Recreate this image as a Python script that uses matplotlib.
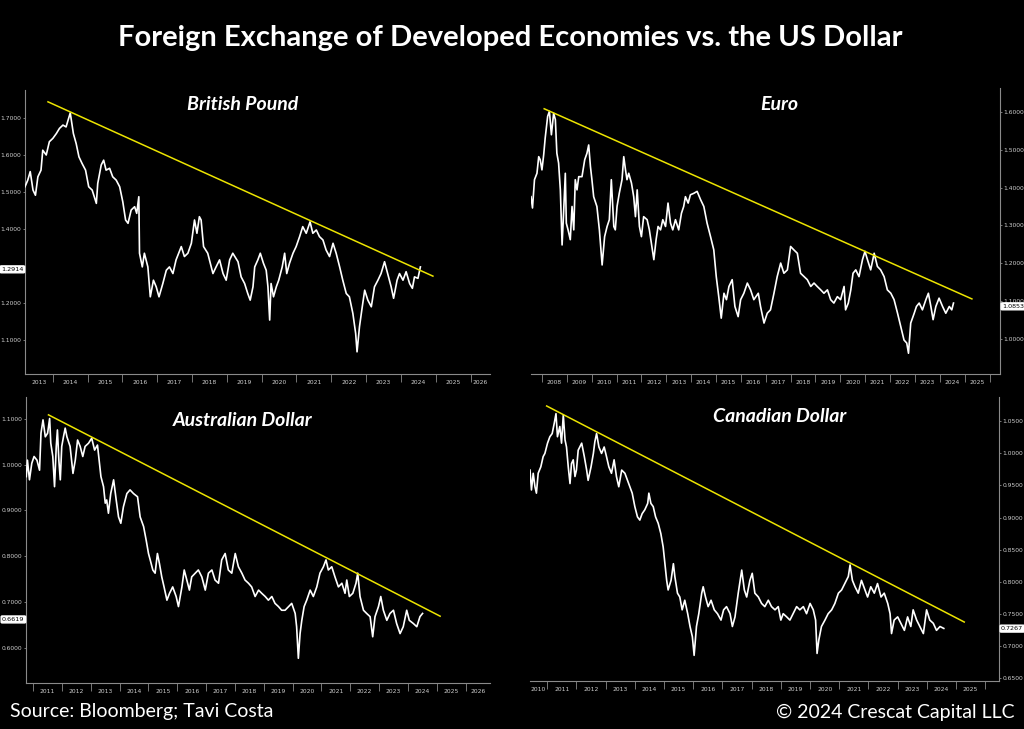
import matplotlib
matplotlib.use("Agg")
import matplotlib.pyplot as plt

# ---- data (decimal years, FX rate vs USD) ----
gbp_t = [2013.20, 2013.28, 2013.35, 2013.43, 2013.50, 2013.57, 2013.66, 2013.71, 2013.81, 2013.90,
         2014.00, 2014.10, 2014.19, 2014.29, 2014.38, 2014.50, 2014.59, 2014.67, 2014.75, 2014.84,
         2014.94, 2015.03, 2015.13, 2015.25, 2015.29, 2015.39, 2015.46, 2015.53, 2015.63, 2015.72,
         2015.82, 2015.92, 2016.01, 2016.09, 2016.16, 2016.25, 2016.35, 2016.41, 2016.47, 2016.49,
         2016.57, 2016.63, 2016.73, 2016.80, 2016.89, 2016.97, 2017.05, 2017.16, 2017.26, 2017.35,
         2017.45, 2017.54, 2017.69, 2017.78, 2017.88, 2017.98, 2018.07, 2018.14, 2018.21, 2018.26,
         2018.33, 2018.45, 2018.60, 2018.69, 2018.79, 2018.89, 2018.98, 2019.08, 2019.17, 2019.32,
         2019.41, 2019.51, 2019.60, 2019.67, 2019.75, 2019.80, 2019.89, 2019.96, 2020.05, 2020.13,
         2020.18, 2020.23, 2020.27, 2020.34, 2020.42, 2020.49, 2020.59, 2020.66, 2020.72, 2020.80,
         2020.90, 2020.99, 2021.09, 2021.18, 2021.28, 2021.39, 2021.47, 2021.57, 2021.66, 2021.76,
         2021.85, 2021.95, 2022.05, 2022.14, 2022.24, 2022.33, 2022.43, 2022.52, 2022.62, 2022.70,
         2022.74, 2022.81, 2022.89, 2022.96, 2023.05, 2023.15, 2023.24, 2023.34, 2023.43, 2023.53,
         2023.62, 2023.72, 2023.79, 2023.89, 2023.96, 2024.06, 2024.15, 2024.25, 2024.33, 2024.39,
         2024.49, 2024.56]
gbp_v = [1.515, 1.533, 1.556, 1.506, 1.492, 1.542, 1.560, 1.614, 1.601, 1.637,
         1.646, 1.659, 1.673, 1.682, 1.677, 1.715, 1.659, 1.632, 1.596, 1.578,
         1.560, 1.515, 1.506, 1.470, 1.524, 1.574, 1.587, 1.560, 1.565, 1.542,
         1.533, 1.515, 1.474, 1.425, 1.416, 1.452, 1.461, 1.443, 1.488, 1.335,
         1.298, 1.335, 1.298, 1.217, 1.262, 1.244, 1.217, 1.253, 1.289, 1.298,
         1.280, 1.317, 1.353, 1.326, 1.335, 1.362, 1.425, 1.389, 1.434, 1.425,
         1.353, 1.335, 1.280, 1.298, 1.317, 1.280, 1.262, 1.317, 1.335, 1.312,
         1.271, 1.253, 1.226, 1.208, 1.244, 1.298, 1.317, 1.335, 1.308, 1.289,
         1.244, 1.154, 1.253, 1.217, 1.244, 1.262, 1.298, 1.335, 1.280, 1.308,
         1.335, 1.353, 1.380, 1.407, 1.389, 1.420, 1.389, 1.398, 1.380, 1.371,
         1.344, 1.326, 1.362, 1.335, 1.298, 1.262, 1.226, 1.217, 1.172, 1.118,
         1.068, 1.136, 1.190, 1.235, 1.208, 1.190, 1.244, 1.262, 1.280, 1.312,
         1.280, 1.244, 1.213, 1.262, 1.280, 1.262, 1.285, 1.253, 1.240, 1.271,
         1.267, 1.298]

eur_t = [2007.56, 2007.62, 2007.70, 2007.80, 2007.87, 2007.93, 2008.00, 2008.07, 2008.13, 2008.23,
         2008.30, 2008.38, 2008.47, 2008.54, 2008.60, 2008.67, 2008.74, 2008.81, 2008.87, 2008.94,
         2008.98, 2009.05, 2009.14, 2009.21, 2009.28, 2009.34, 2009.41, 2009.48, 2009.61, 2009.72,
         2009.81, 2009.88, 2009.95, 2010.01, 2010.08, 2010.21, 2010.31, 2010.42, 2010.52, 2010.62,
         2010.71, 2010.79, 2010.89, 2010.95, 2011.02, 2011.11, 2011.22, 2011.29, 2011.36, 2011.42,
         2011.49, 2011.60, 2011.69, 2011.76, 2011.83, 2011.92, 2012.00, 2012.09, 2012.23, 2012.32,
         2012.40, 2012.50, 2012.59, 2012.67, 2012.77, 2012.86, 2012.97, 2013.07, 2013.17, 2013.26,
         2013.37, 2013.50, 2013.61, 2013.70, 2013.77, 2013.88, 2013.97, 2014.11, 2014.24, 2014.38,
         2014.51, 2014.64, 2014.78, 2014.91, 2015.01, 2015.11, 2015.21, 2015.32, 2015.42, 2015.52,
         2015.65, 2015.76, 2015.89, 2015.99, 2016.12, 2016.26, 2016.39, 2016.52, 2016.70, 2016.79,
         2016.93, 2017.06, 2017.19, 2017.33, 2017.46, 2017.60, 2017.73, 2017.87, 2018.00, 2018.13,
         2018.27, 2018.40, 2018.54, 2018.67, 2018.81, 2018.94, 2019.07, 2019.21, 2019.34, 2019.48,
         2019.61, 2019.74, 2019.88, 2020.01, 2020.15, 2020.21, 2020.32, 2020.42, 2020.51, 2020.62,
         2020.75, 2020.89, 2020.99, 2021.09, 2021.22, 2021.36, 2021.49, 2021.62, 2021.76, 2021.89,
         2022.03, 2022.16, 2022.30, 2022.43, 2022.56, 2022.67, 2022.74, 2022.83, 2022.97, 2023.06,
         2023.17, 2023.30, 2023.44, 2023.54, 2023.64, 2023.73, 2023.84, 2023.97, 2024.11, 2024.24,
         2024.38, 2024.48, 2024.55]
eur_v = [1.376, 1.346, 1.421, 1.438, 1.482, 1.474, 1.447, 1.487, 1.531, 1.589,
         1.602, 1.540, 1.597, 1.580, 1.491, 1.465, 1.394, 1.248, 1.332, 1.438,
         1.306, 1.288, 1.262, 1.350, 1.288, 1.421, 1.394, 1.429, 1.429, 1.474,
         1.491, 1.513, 1.456, 1.421, 1.376, 1.350, 1.288, 1.195, 1.270, 1.297,
         1.315, 1.421, 1.297, 1.288, 1.350, 1.385, 1.421, 1.482, 1.447, 1.421,
         1.438, 1.412, 1.376, 1.323, 1.394, 1.297, 1.270, 1.323, 1.315, 1.288,
         1.253, 1.209, 1.262, 1.297, 1.288, 1.315, 1.297, 1.359, 1.306, 1.288,
         1.315, 1.288, 1.332, 1.350, 1.376, 1.359, 1.381, 1.385, 1.390, 1.368,
         1.350, 1.306, 1.270, 1.235, 1.164, 1.111, 1.054, 1.120, 1.103, 1.138,
         1.156, 1.085, 1.058, 1.103, 1.120, 1.147, 1.129, 1.103, 1.120, 1.085,
         1.041, 1.067, 1.076, 1.120, 1.164, 1.200, 1.173, 1.182, 1.244, 1.235,
         1.226, 1.173, 1.164, 1.156, 1.138, 1.147, 1.138, 1.129, 1.120, 1.129,
         1.103, 1.094, 1.111, 1.103, 1.138, 1.076, 1.094, 1.129, 1.173, 1.182,
         1.164, 1.209, 1.231, 1.209, 1.182, 1.226, 1.191, 1.182, 1.164, 1.129,
         1.120, 1.103, 1.067, 1.032, 0.996, 0.988, 0.961, 1.041, 1.067, 1.085,
         1.094, 1.076, 1.103, 1.120, 1.085, 1.050, 1.085, 1.107, 1.085, 1.067,
         1.085, 1.076, 1.094]

aud_t = [2010.76, 2010.80, 2010.87, 2010.95, 2011.03, 2011.13, 2011.22, 2011.27, 2011.34, 2011.42,
         2011.50, 2011.57, 2011.61, 2011.68, 2011.74, 2011.80, 2011.84, 2011.89, 2011.94, 2011.99,
         2012.05, 2012.11, 2012.17, 2012.28, 2012.38, 2012.46, 2012.54, 2012.63, 2012.72, 2012.80,
         2012.92, 2013.03, 2013.13, 2013.23, 2013.30, 2013.35, 2013.44, 2013.50, 2013.55, 2013.61,
         2013.69, 2013.79, 2013.88, 2013.96, 2014.04, 2014.13, 2014.25, 2014.36, 2014.48, 2014.62,
         2014.71, 2014.83, 2014.92, 2015.00, 2015.06, 2015.15, 2015.23, 2015.31, 2015.38, 2015.46,
         2015.54, 2015.64, 2015.73, 2015.84, 2015.96, 2016.04, 2016.16, 2016.24, 2016.33, 2016.42,
         2016.50, 2016.62, 2016.73, 2016.85, 2016.97, 2017.08, 2017.20, 2017.31, 2017.43, 2017.54,
         2017.66, 2017.77, 2017.89, 2018.01, 2018.12, 2018.24, 2018.35, 2018.47, 2018.58, 2018.70,
         2018.82, 2018.93, 2019.05, 2019.16, 2019.28, 2019.39, 2019.51, 2019.62, 2019.74, 2019.86,
         2019.97, 2020.09, 2020.14, 2020.20, 2020.26, 2020.32, 2020.40, 2020.49, 2020.61, 2020.72,
         2020.84, 2020.95, 2021.07, 2021.16, 2021.24, 2021.36, 2021.47, 2021.59, 2021.71, 2021.82,
         2021.88, 2021.97, 2022.09, 2022.20, 2022.26, 2022.34, 2022.46, 2022.57, 2022.69, 2022.78,
         2022.86, 2022.98, 2023.06, 2023.15, 2023.27, 2023.38, 2023.50, 2023.61, 2023.73, 2023.84,
         2023.96, 2024.05, 2024.19, 2024.31, 2024.42, 2024.51]
aud_v = [0.974, 1.010, 0.967, 1.003, 1.018, 1.010, 0.988, 1.069, 1.098, 1.061,
         1.069, 1.101, 1.047, 1.018, 0.952, 1.040, 1.076, 1.010, 0.967, 1.040,
         1.061, 1.080, 1.061, 1.040, 0.981, 1.010, 1.054, 1.040, 1.018, 1.040,
         1.047, 1.058, 1.032, 1.043, 1.003, 0.974, 0.952, 0.916, 0.923, 0.894,
         0.937, 0.967, 0.923, 0.886, 0.872, 0.908, 0.937, 0.945, 0.937, 0.930,
         0.886, 0.865, 0.835, 0.806, 0.792, 0.770, 0.763, 0.806, 0.784, 0.755,
         0.733, 0.704, 0.719, 0.733, 0.712, 0.690, 0.733, 0.770, 0.748, 0.726,
         0.755, 0.763, 0.770, 0.755, 0.726, 0.763, 0.770, 0.748, 0.741, 0.792,
         0.806, 0.770, 0.763, 0.806, 0.777, 0.763, 0.748, 0.741, 0.733, 0.712,
         0.726, 0.719, 0.712, 0.704, 0.712, 0.697, 0.690, 0.682, 0.682, 0.690,
         0.697, 0.675, 0.646, 0.577, 0.631, 0.660, 0.690, 0.704, 0.726, 0.712,
         0.733, 0.763, 0.777, 0.792, 0.770, 0.777, 0.755, 0.733, 0.741, 0.719,
         0.748, 0.712, 0.719, 0.741, 0.763, 0.712, 0.682, 0.675, 0.668, 0.624,
         0.668, 0.690, 0.712, 0.682, 0.660, 0.675, 0.682, 0.653, 0.631, 0.646,
         0.682, 0.660, 0.653, 0.646, 0.668, 0.675]

cad_t = [2010.41, 2010.46, 2010.52, 2010.58, 2010.63, 2010.69, 2010.78, 2010.86, 2010.92, 2011.01,
         2011.09, 2011.17, 2011.24, 2011.30, 2011.35, 2011.43, 2011.49, 2011.55, 2011.61, 2011.66,
         2011.72, 2011.78, 2011.83, 2011.89, 2011.95, 2012.00, 2012.06, 2012.18, 2012.27, 2012.35,
         2012.40, 2012.50, 2012.58, 2012.63, 2012.69, 2012.77, 2012.86, 2012.95, 2013.03, 2013.11,
         2013.20, 2013.29, 2013.37, 2013.45, 2013.55, 2013.66, 2013.75, 2013.83, 2013.91, 2014.00,
         2014.09, 2014.17, 2014.25, 2014.34, 2014.44, 2014.48, 2014.55, 2014.63, 2014.71, 2014.80,
         2014.89, 2014.97, 2015.03, 2015.09, 2015.14, 2015.24, 2015.32, 2015.37, 2015.46, 2015.54,
         2015.62, 2015.71, 2015.81, 2015.89, 2015.97, 2016.03, 2016.11, 2016.19, 2016.29, 2016.34,
         2016.42, 2016.51, 2016.61, 2016.72, 2016.83, 2016.95, 2017.04, 2017.14, 2017.26, 2017.34,
         2017.43, 2017.54, 2017.66, 2017.75, 2017.83, 2017.94, 2018.02, 2018.11, 2018.23, 2018.34,
         2018.45, 2018.57, 2018.68, 2018.80, 2018.91, 2019.00, 2019.08, 2019.20, 2019.31, 2019.42,
         2019.54, 2019.65, 2019.77, 2019.88, 2020.00, 2020.11, 2020.19, 2020.24, 2020.30, 2020.39,
         2020.51, 2020.62, 2020.74, 2020.85, 2020.97, 2021.08, 2021.19, 2021.31, 2021.37, 2021.45,
         2021.54, 2021.65, 2021.76, 2021.88, 2021.97, 2022.08, 2022.20, 2022.31, 2022.43, 2022.54,
         2022.66, 2022.74, 2022.79, 2022.88, 2023.00, 2023.11, 2023.23, 2023.34, 2023.45, 2023.53,
         2023.65, 2023.76, 2023.88, 2023.99, 2024.10, 2024.22, 2024.33, 2024.45, 2024.58]
cad_v = [0.974, 0.943, 0.969, 0.948, 0.938, 0.969, 0.979, 0.995, 1.000, 1.016,
         1.026, 1.031, 1.047, 1.062, 1.026, 1.042, 1.016, 1.060, 1.021, 1.010,
         0.979, 0.953, 0.984, 0.990, 0.964, 0.974, 1.005, 1.016, 0.995, 0.974,
         0.958, 0.979, 1.000, 1.018, 1.031, 1.010, 1.000, 1.010, 0.995, 0.979,
         0.969, 0.990, 0.964, 0.948, 0.974, 0.969, 0.958, 0.948, 0.938, 0.917,
         0.901, 0.896, 0.906, 0.912, 0.922, 0.938, 0.922, 0.917, 0.901, 0.891,
         0.875, 0.854, 0.828, 0.802, 0.787, 0.802, 0.828, 0.808, 0.782, 0.776,
         0.756, 0.771, 0.750, 0.730, 0.714, 0.685, 0.730, 0.750, 0.782, 0.792,
         0.776, 0.761, 0.771, 0.756, 0.750, 0.740, 0.756, 0.761, 0.750, 0.730,
         0.745, 0.782, 0.818, 0.787, 0.776, 0.802, 0.813, 0.782, 0.776, 0.766,
         0.761, 0.771, 0.761, 0.756, 0.761, 0.740, 0.750, 0.745, 0.740, 0.750,
         0.761, 0.756, 0.761, 0.750, 0.766, 0.756, 0.740, 0.688, 0.709, 0.730,
         0.740, 0.750, 0.756, 0.766, 0.782, 0.787, 0.797, 0.808, 0.826, 0.802,
         0.792, 0.782, 0.802, 0.787, 0.776, 0.792, 0.782, 0.797, 0.776, 0.782,
         0.766, 0.750, 0.719, 0.740, 0.745, 0.735, 0.724, 0.745, 0.730, 0.756,
         0.740, 0.730, 0.719, 0.756, 0.740, 0.735, 0.724, 0.730, 0.727]

# trend lines (start, end)
gbp_trend_t = [2013.86, 2024.92]
gbp_trend_v = [1.745, 1.273]
eur_trend_t = [2008.09, 2025.29]
eur_trend_v = [1.609, 1.105]
aud_trend_t = [2011.53, 2025.12]
aud_trend_v = [1.109, 0.669]
cad_trend_t = [2010.98, 2025.28]
cad_trend_v = [1.074, 0.737]

# last price tags
gbp_last = 1.2914
eur_last = 1.0853
aud_last = 0.6619
cad_last = 0.7267

# axis labels
gbp_years = list(range(2013, 2027))
eur_years = list(range(2008, 2026))
aud_years = list(range(2011, 2027))
cad_years = list(range(2010, 2026))
gbp_yticks = [1.1, 1.2, 1.3, 1.4, 1.5, 1.6, 1.7]
eur_yticks = [1.0, 1.1, 1.2, 1.3, 1.4, 1.5, 1.6]
aud_yticks = [0.6, 0.7, 0.8, 0.9, 1.0, 1.1]
cad_yticks = [0.65, 0.70, 0.75, 0.80, 0.85, 0.90, 0.95, 1.00, 1.05]

W, H = 1024, 729
AXIS_COL = "#8a8a8a"
LABEL_COL = "#cfcfcf"
YELLOW = "#ece400"
FONT = "Lato"


def panel(rect_px, t, v, trend_t, trend_v, last, xlim, ylim, yticks, years, side, title, title_px):
    x0, y0, x1, y1 = rect_px  # left, top, right, bottom in pixels
    ax = fig.add_axes([x0 / W, 1 - y1 / H, (x1 - x0) / W, (y1 - y0) / H])
    ax.set_facecolor("black")
    ax.plot(t, v, color="white", lw=1.2, zorder=3)
    ax.plot(trend_t, trend_v, color=YELLOW, lw=1.1, zorder=4)
    ax.set_xlim(*xlim)
    ax.set_ylim(*ylim)

    for s in ax.spines.values():
        s.set_visible(False)
    for s in ("bottom", side):
        ax.spines[s].set_visible(True)
        ax.spines[s].set_color(AXIS_COL)
        ax.spines[s].set_linewidth(0.8)

    # y axis (a label sitting under the last-price tag is hidden, like the source)
    ax.set_yticks(yticks)
    ax.set_yticklabels(["" if abs(y - last) < 0.01 else f"{y:.4f}" for y in yticks])
    if side == "right":
        ax.yaxis.tick_right()
    ax.tick_params(axis="y", colors=AXIS_COL, labelcolor=LABEL_COL, labelsize=4.3,
                   length=1.5, width=0.6, pad=1)

    # x axis: separators at year starts, labels centred in each visible year
    seps = [y for y in range(int(xlim[0]), int(xlim[1]) + 1) if xlim[0] < y < xlim[1]]
    ax.set_xticks(seps)
    ax.set_xticklabels([""] * len(seps))
    centres = []
    for y in years:
        a, b = max(y, xlim[0]), min(y + 1, xlim[1])
        centres.append((a + b) / 2)
    ax.set_xticks(centres, minor=True)
    ax.set_xticklabels([str(y) for y in years], minor=True)
    ax.tick_params(axis="x", which="major", colors=AXIS_COL, length=6, width=0.6)
    ax.tick_params(axis="x", which="minor", length=0, labelcolor=LABEL_COL,
                   labelsize=4.3, pad=4)

    # last value tag
    if side == "left":
        xa, off, ha = 0, -1, "right"
    else:
        xa, off, ha = 1, 1.5, "left"
    ax.annotate(f"{last:.4f}", xy=(xa, last), xycoords=("axes fraction", "data"),
                xytext=(off, 0), textcoords="offset points", ha=ha, va="center",
                fontsize=4.6, color="black", annotation_clip=False,
                bbox=dict(boxstyle="round,pad=0.15", fc="white", ec="white"))

    fig.text(title_px[0] / W, 1 - title_px[1] / H, title, color="white", fontsize=14,
             fontweight="bold", fontstyle="italic", family=FONT, ha="center", va="center")
    return ax


fig = plt.figure(figsize=(W / 100, H / 100), dpi=100, facecolor="black")

panel((25, 90, 490, 374), gbp_t, gbp_v, gbp_trend_t, gbp_trend_v, gbp_last,
      (2013.2, 2026.56), (1.008, 1.777), gbp_yticks, gbp_years, "left",
      "British Pound", (243, 104))
panel((531, 88, 1000, 374), eur_t, eur_v, eur_trend_t, eur_trend_v, eur_last,
      (2007.56, 2026.42), (0.906, 1.664), eur_yticks, eur_years, "right",
      "Euro", (779, 104))
panel((26, 397, 490, 683), aud_t, aud_v, aud_trend_t, aud_trend_v, aud_last,
      (2010.75, 2026.85), (0.523, 1.148), aud_yticks, aud_years, "left",
      "Australian Dollar", (243, 421))
panel((530, 397, 999, 681), cad_t, cad_v, cad_trend_t, cad_trend_v, cad_last,
      (2010.41, 2026.47), (0.645, 1.088), cad_yticks, cad_years, "right",
      "Canadian Dollar", (780, 416))

fig.text(510 / W, 1 - 38 / H, "Foreign Exchange of Developed Economies vs. the US Dollar",
         color="white", fontsize=21, fontweight="bold", family=FONT, ha="center", va="center")
fig.text(10 / W, 1 - 712 / H, "Source: Bloomberg; Tavi Costa", color="white",
         fontsize=14, family=FONT, ha="left", va="center")
fig.text(1015 / W, 1 - 712 / H, "\u00a9 2024 Crescat Capital LLC", color="white",
         fontsize=14, family=FONT, ha="right", va="center")

fig.savefig("out.png", dpi=100, facecolor="black")
